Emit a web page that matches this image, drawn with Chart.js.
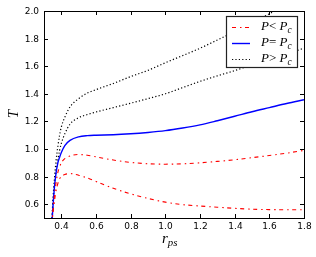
<!DOCTYPE html>
<html>
<head>
<meta charset="utf-8">
<script src="https://cdn.jsdelivr.net/npm/chart.js@4/dist/chart.umd.min.js"></script>
<style>
  html, body { margin: 0; padding: 0; background: #fff; }
  #wrap { position: relative; width: 316px; height: 257px; }
</style>
</head>
<body>
<div id="wrap"><canvas id="chart"></canvas></div>
<script>
// r_ps sample points shared by every curve
const rValues = [0.345, 0.35, 0.36, 0.37, 0.38, 0.39, 0.40, 0.42, 0.45, 0.50, 0.55, 0.60,
  0.70, 0.80, 0.90, 1.00, 1.10, 1.20, 1.30, 1.40, 1.50, 1.60, 1.70, 1.80];

// P > Pc (two dotted curves)
const tAboveHigh = [0.45, 0.60, 0.78, 0.92, 1.02, 1.10, 1.16, 1.23, 1.305, 1.365, 1.405, 1.43,
  1.475, 1.525, 1.57, 1.625, 1.677, 1.73, 1.79, 1.85, 1.915, 1.98, 2.05, 2.12];
const tAboveLow = [0.45, 0.57, 0.73, 0.84, 0.92, 0.99, 1.04, 1.11, 1.18, 1.227, 1.25, 1.268,
  1.30, 1.332, 1.365, 1.40, 1.445, 1.49, 1.53, 1.568, 1.61, 1.65, 1.69, 1.73];
// P = Pc
const tCritical = [0.45, 0.55, 0.72, 0.83, 0.90, 0.94, 0.975, 1.025, 1.062, 1.088, 1.097, 1.10,
  1.103, 1.11, 1.12, 1.133, 1.152, 1.175, 1.205, 1.237, 1.27, 1.30, 1.33, 1.357];
// P < Pc (two dash-dot curves)
const tBelowHigh = [0.45, 0.52, 0.66, 0.76, 0.83, 0.87, 0.90, 0.93, 0.95, 0.96, 0.955, 0.943,
  0.92, 0.903, 0.893, 0.89, 0.893, 0.90, 0.91, 0.922, 0.937, 0.953, 0.97, 0.99];
const tBelowLow = [0.45, 0.52, 0.62, 0.70, 0.75, 0.785, 0.80, 0.815, 0.822, 0.81, 0.79, 0.765,
  0.715, 0.675, 0.642, 0.615, 0.597, 0.587, 0.578, 0.57, 0.564, 0.561, 0.56, 0.56];

const xTicks = [0.4, 0.6, 0.8, 1.0, 1.2, 1.4, 1.6, 1.8];
const yTicks = [0.6, 0.8, 1.0, 1.2, 1.4, 1.6, 1.8, 2.0];

const RED_DASH = [4, 4, 1.5, 3.5];
const DOTS = [1.2, 2.2];

function pts(ys) {
  return rValues.map((r, i) => ({ x: r, y: ys[i] }));
}

function curve(ys, color, dash, width) {
  return {
    data: pts(ys),
    borderColor: color,
    borderWidth: width,
    borderDash: dash,
    pointRadius: 0,
    fill: false,
    cubicInterpolationMode: 'monotone'
  };
}

// draws things like "P< P_c" : pieces of [text, italic, subscript]
function mathText(ctx, pieces, x, y, size) {
  let cx = x;
  for (const [txt, ital, sub] of pieces) {
    const s = sub ? size * 0.72 : size;
    ctx.font = (ital ? 'italic ' : '') + s + 'px "Liberation Serif"';
    ctx.fillText(txt, cx, sub ? y + size * 0.25 : y);
    cx += ctx.measureText(txt).width;
  }
}

const framePlugin = {
  id: 'frame',
  afterDraw(chart) {
    const { ctx, chartArea: a, scales } = chart;
    ctx.save();
    ctx.strokeStyle = '#000';
    ctx.lineWidth = 1;
    ctx.setLineDash([]);
    ctx.strokeRect(a.left + 0.5, a.top + 0.5, a.right - a.left, a.bottom - a.top);

    // inward ticks on all four sides, plus tick labels
    ctx.fillStyle = '#000';
    ctx.font = '9px "DejaVu Sans"';
    ctx.beginPath();
    ctx.textAlign = 'center';
    ctx.textBaseline = 'middle';
    for (const v of xTicks) {
      const px = Math.round(scales.x.getPixelForValue(v)) + 0.5;
      ctx.moveTo(px, a.bottom); ctx.lineTo(px, a.bottom - 4);
      ctx.moveTo(px, a.top); ctx.lineTo(px, a.top + 4);
      ctx.fillText(v.toFixed(1), px, a.bottom + 9);
    }
    ctx.textAlign = 'right';
    for (const v of yTicks) {
      const py = Math.round(scales.y.getPixelForValue(v)) + 0.5;
      ctx.moveTo(a.left, py); ctx.lineTo(a.left + 4, py);
      ctx.moveTo(a.right, py); ctx.lineTo(a.right - 4, py);
      ctx.fillText(v.toFixed(1), a.left - 5, py);
    }
    ctx.stroke();

    // legend
    const lx = 226, ly = 16, lw = 71, lh = 51;
    ctx.fillStyle = '#fff';
    ctx.fillRect(lx, ly, lw, lh);
    ctx.lineWidth = 1.2;
    ctx.strokeStyle = '#222';
    ctx.strokeRect(lx + 0.5, ly + 0.5, lw, lh);

    const rows = [
      { color: '#ff0000', dash: RED_DASH, w: 1.1, op: '<', y: 27 },
      { color: '#0000ff', dash: [], w: 1.4, op: '=', y: 43 },
      { color: '#000000', dash: DOTS, w: 1.2, op: '>', y: 59 }
    ];
    for (const r of rows) {
      ctx.beginPath();
      ctx.strokeStyle = r.color;
      ctx.lineWidth = r.w;
      ctx.setLineDash(r.dash);
      ctx.moveTo(232, r.y + 0.5);
      ctx.lineTo(250, r.y + 0.5);
      ctx.stroke();
      ctx.setLineDash([]);
      ctx.fillStyle = '#000';
      ctx.textBaseline = 'middle';
      ctx.textAlign = 'left';
      mathText(ctx, [['P', true], [r.op, false], [' P', true], ['c', true, true]], 261, r.y, 13);
    }

    // axis titles
    ctx.fillStyle = '#000';
    ctx.textBaseline = 'middle';
    ctx.save();
    ctx.translate(14, 114);
    ctx.rotate(-Math.PI / 2);
    ctx.textAlign = 'center';
    ctx.font = 'italic 15px "Liberation Serif"';
    ctx.fillText('T', 0, 0);
    ctx.restore();
    ctx.textAlign = 'left';
    mathText(ctx, [['r', true], ['ps', true, true]], 162, 239, 15);
    ctx.restore();
  }
};

new Chart(document.getElementById('chart'), {
  type: 'line',
  data: {
    datasets: [
      curve(tBelowHigh, '#ff0000', RED_DASH, 1.1),
      curve(tBelowLow, '#ff0000', RED_DASH, 1.1),
      curve(tCritical, '#0000ff', [], 1.4),
      curve(tAboveHigh, '#000000', DOTS, 1.2),
      curve(tAboveLow, '#000000', DOTS, 1.2)
    ]
  },
  options: {
    responsive: true,
    maintainAspectRatio: false,
    animation: false,
    layout: { padding: { left: 0, top: 11, right: 12, bottom: 0 } },
    plugins: { legend: { display: false }, tooltip: { enabled: false } },
    scales: {
      x: {
        type: 'linear',
        min: 0.3,
        max: 1.8,
        grid: { display: false },
        border: { display: false },
        ticks: { display: false },
        afterFit: (s) => { s.height = 39; }
      },
      y: {
        type: 'linear',
        min: 0.5,
        max: 2.0,
        grid: { display: false },
        border: { display: false },
        ticks: { display: false },
        afterFit: (s) => { s.width = 44; }
      }
    }
  },
  plugins: [framePlugin]
});
</script>
</body>
</html>
